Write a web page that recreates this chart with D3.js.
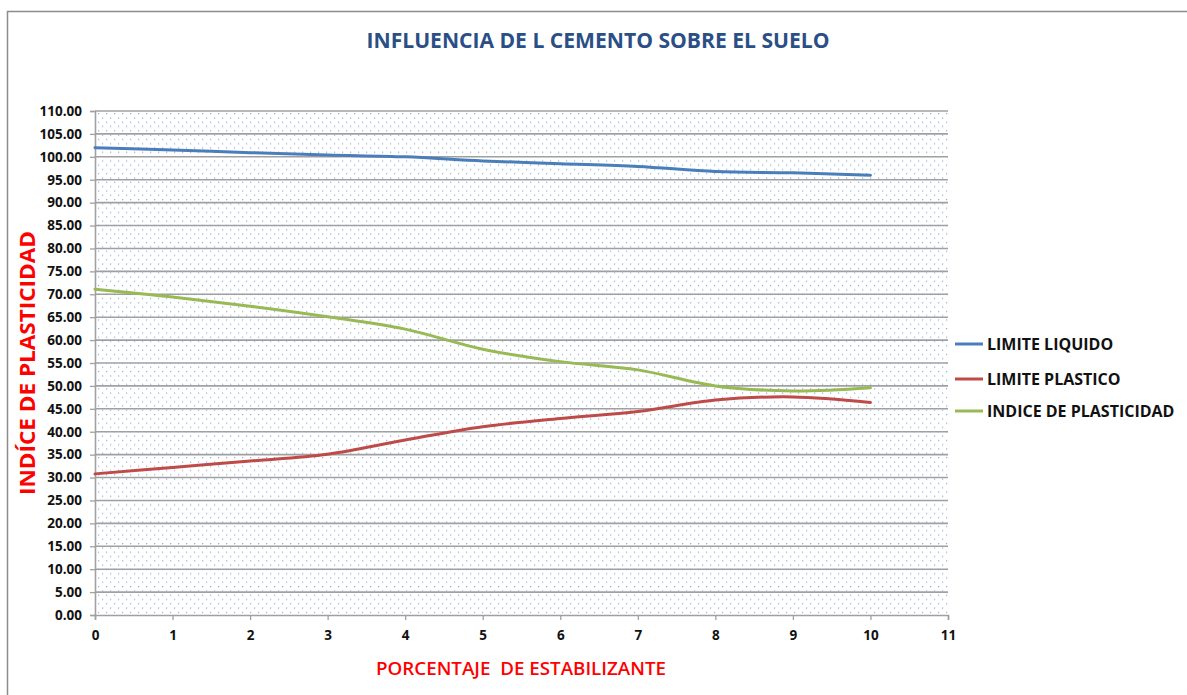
<!DOCTYPE html>
<html><head><meta charset="utf-8">
<script src="https://cdn.jsdelivr.net/npm/d3@7"></script>
<style>body{margin:0;background:#fff;}svg{display:block;}</style>
</head><body><svg id="c" width="1187" height="695"></svg>
<script>
const xValues = [0,1,2,3,4,5,6,7,8,9,10];
const limiteLiquido = [102.0,101.5,100.9,100.4,100.0,99.1,98.5,97.9,96.8,96.5,96.0];
const limitePlastico = [30.8,32.2,33.6,35.1,38.2,41.1,42.9,44.4,46.9,47.6,46.4];
const indicePlasticidad = [71.1,69.4,67.4,65.1,62.4,58.0,55.3,53.5,50.0,48.9,49.6];
const seriesNames = ["LIMITE LIQUIDO","LIMITE PLASTICO","INDICE DE PLASTICIDAD"];
const seriesColors = ["#4a7ebb","#be4b48","#98b954"];
const yTicks = d3.range(0,111,5);
const xTicks = d3.range(0,12,1);
const title = "INFLUENCIA DE L CEMENTO SOBRE EL SUELO";
const yTitle = "INDÍCE DE PLASTICIDAD";
const xTitle = "PORCENTAJE  DE ESTABILIZANTE";

const svg = d3.select("#c");
const font = "'Open Sans', 'DejaVu Sans', sans-serif";
const L=95,R=948,T=111,B=615;
const x = d3.scaleLinear().domain([0,11]).range([L,R]);
const y = d3.scaleLinear().domain([0,110]).range([B,T]);

// outer border
svg.append("path").attr("d","M7.5,700 V11.5 H1200").attr("fill","none").attr("stroke","#8c8c8c").attr("stroke-width",1.5);

const defs = svg.append("defs");
const pat = defs.append("pattern").attr("id","dots").attr("patternUnits","userSpaceOnUse")
  .attr("width",8).attr("height",8.6).attr("x",L+3).attr("y",T+2);
pat.append("rect").attr("width",8).attr("height",8.6).attr("fill","#fff");
pat.append("rect").attr("x",0).attr("y",0).attr("width",1.2).attr("height",1.2).attr("fill","#8eaee0");
pat.append("rect").attr("x",4).attr("y",4.3).attr("width",1.2).attr("height",1.2).attr("fill","#8eaee0");

svg.append("rect").attr("x",L).attr("y",T).attr("width",R-L).attr("height",B-T).attr("fill","url(#dots)");

// gridlines
svg.append("g").selectAll("line").data(yTicks.filter(d=>d>0)).join("line")
  .attr("x1",L).attr("x2",R).attr("y1",d=>y(d)).attr("y2",d=>y(d))
  .attr("stroke","#a0a0a0").attr("stroke-width",1.6);

// axes
const yAxis = d3.axisLeft(y).tickValues(yTicks).tickFormat(d3.format(".2f")).tickSize(5).tickPadding(8);
const gy = svg.append("g").attr("transform",`translate(${L},0)`).call(yAxis);
const xAxis = d3.axisBottom(x).tickValues(xTicks).tickFormat(d3.format("d")).tickSize(5).tickPadding(10);
const gx = svg.append("g").attr("transform",`translate(0,${B})`).call(xAxis);
[gy,gx].forEach(g=>{
  g.select(".domain").attr("stroke","#a0a0a0").attr("stroke-width",1.6);
  g.selectAll(".tick line").attr("stroke","#a0a0a0").attr("stroke-width",1.3);
  g.selectAll("text").attr("font-family",font).attr("font-weight","bold").attr("font-size",13.5).attr("fill","#111");
});

// lines
const allSeries = [limiteLiquido, limitePlastico, indicePlasticidad];
const line = d3.line().x((d,i)=>x(xValues[i])).y(d=>y(d)).curve(d3.curveCatmullRom.alpha(0.5));
allSeries.forEach((s,k)=>{
  svg.append("path").datum(s).attr("d",line).attr("fill","none")
    .attr("stroke",seriesColors[k]).attr("stroke-width",3).attr("stroke-linecap","round");
});

// legend
const legY = [344,379,411];
seriesNames.forEach((n,k)=>{
  svg.append("line").attr("x1",955).attr("x2",983).attr("y1",legY[k]).attr("y2",legY[k])
    .attr("stroke",seriesColors[k]).attr("stroke-width",3);
  svg.append("text").attr("x",987).attr("y",legY[k]).attr("dy","0.35em")
    .attr("font-family",font).attr("font-weight","bold").attr("font-size",16).attr("fill","#111").text(n);
});

// titles
svg.append("text").attr("x",598).attr("y",48).attr("text-anchor","middle")
  .attr("font-family",font).attr("font-weight","bold").attr("font-size",21).attr("fill","#2a4f86")
  .attr("textLength",463).attr("lengthAdjust","spacingAndGlyphs").text(title);
svg.append("text").attr("transform","translate(35,363) rotate(-90)").attr("text-anchor","middle")
  .attr("font-family",font).attr("font-weight","bold").attr("font-size",21).attr("fill","#ff0000")
  .attr("textLength",264).attr("lengthAdjust","spacingAndGlyphs").text(yTitle);
svg.append("text").attr("x",521).attr("y",675).attr("text-anchor","middle")
  .attr("font-family",font).attr("font-weight","600").attr("font-size",18).attr("fill","#ff0000")
  .attr("textLength",290).attr("lengthAdjust","spacingAndGlyphs").attr("xml:space","preserve").text(xTitle);
</script></body></html>
